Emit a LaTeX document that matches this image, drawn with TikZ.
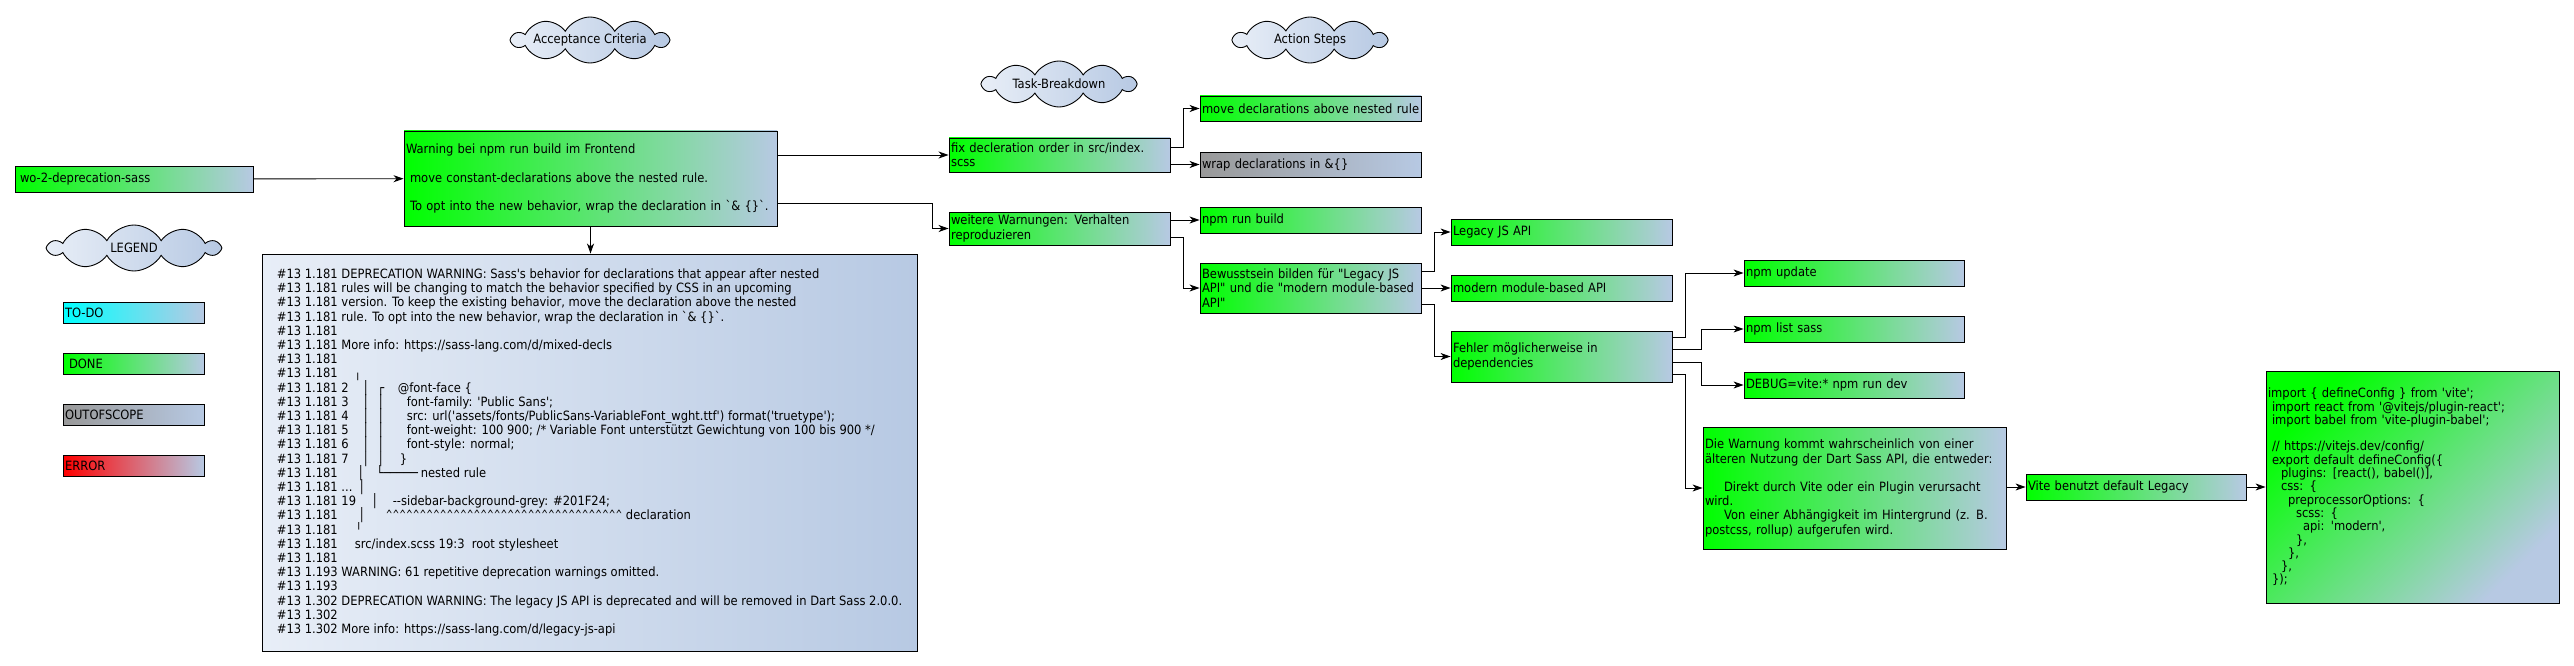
\documentclass[tikz,border=0pt]{standalone}
\usepackage{fontspec}
\usepackage{graphicx}
\usetikzlibrary{shapes.symbols, arrows.meta}
\newfontfamily\lblfont{DejaVu Sans}[FakeStretch=0.9]
\definecolor{doneL}{HTML}{00FF00}
\definecolor{todoL}{HTML}{00FFFF}
\definecolor{oosL}{HTML}{999999}
\definecolor{errL}{HTML}{FF0000}
\definecolor{fadeR}{HTML}{B7C9E3}
\definecolor{cloudL}{HTML}{E8EEF7}
\newcommand\logtab[2]{\makebox[0pt][l]{\hspace*{#1pt}#2}}
\newcommand\indentby[1]{\hspace*{#1pt}}
\newcommand\fivecarets{\char"5E\char"5E\char"5E\char"5E\char"5E}
\newcommand\logfont{\lblfont\fontsize{12.8}{14.2}\selectfont\lineskiplimit=-100pt\relax}
\begin{document}
\begin{tikzpicture}[x=1pt, y=-1pt, line width=0.9pt,
    >={Stealth[length=10pt, width=7pt, inset=3pt]},
    every node/.style={font=\lblfont\fontsize{12.8}{14.2}\selectfont},
    taskbox/.style={draw, inner xsep=2pt, inner ysep=1pt, align=left, right color=fadeR},
    donebox/.style={taskbox, left color=doneL},
    todobox/.style={taskbox, left color=todoL},
    oosbox/.style={taskbox, left color=oosL},
    errbox/.style={taskbox, left color=errL},
    tagcloud/.style={draw, cloud, cloud puffs=10, cloud puff arc=120, aspect=3.3,
        cloud ignores aspect, minimum width=152, minimum height=46, inner sep=0pt,
        left color=cloudL, right color=fadeR},
    logbox/.style={draw, align=left, left color=cloudL, right color=fadeR, font=\logfont}]
    \path[use as bounding box, fill=white] (0,0) rectangle (2574,666);

    \node[tagcloud] (accept) at (590, 40) {Acceptance Criteria};
    \node[tagcloud] (breakdown) at (1059, 84) {Task-Breakdown};
    \node[tagcloud] (actions) at (1310, 40) {Action Steps};
    \node[tagcloud, minimum width=170] (legend) at (134, 248) {LEGEND};

    \node[todobox, text width=137, minimum height=21] (todo) at (133.5, 312.5) {TO-DO};
    \node[donebox, text width=137, minimum height=21] (done) at (133.5, 363.5) {\indentby{4}DONE};
    \node[oosbox, text width=137, minimum height=21] (oos) at (133.5, 414.5) {OUTOFSCOPE};
    \node[errbox, text width=137, minimum height=21] (err) at (133.5, 465.5) {ERROR};

    \node[donebox, text width=234, minimum height=26] (ticket) at (134, 179) {\indentby{3}wo-2-deprecation-sass};
    \node[donebox, text width=369, minimum height=95] (warning) at (590.5, 178.5) {Warning bei npm run build im Frontend\\[14.2pt]
        \indentby{4}move constant-declarations above the nested rule.\\[14.2pt]
        \indentby{4}To opt into the new behavior, wrap the declaration in `\& \{\}`.};
    \node[logbox, minimum width=655, minimum height=397] (log) at (589.5, 452.5) {%
        \#13 1.181 DEPRECATION WARNING: Sass's behavior for declarations that appear after nested\\
        \#13 1.181 rules will be changing to match the behavior specified by CSS in an upcoming\\
        \#13 1.181 version. To keep the existing behavior, move the declaration above the nested\\
        \#13 1.181 rule. To opt into the new behavior, wrap the declaration in `\& \{\}`.\\
        \#13 1.181\\
        \#13 1.181 More info: https://sass-lang.com/d/mixed-decls\\
        \#13 1.181\\
        \logtab{0}{\#13 1.181}\logtab{77.5}{╷}\\
        \logtab{0}{\#13 1.181 2}\logtab{85.5}{│}\logtab{100.5}{┌}\logtab{121}{@font-face \{}\\
        \logtab{0}{\#13 1.181 3}\logtab{85.5}{│}\logtab{100.5}{│}\logtab{130}{font-family: 'Public Sans';}\\
        \logtab{0}{\#13 1.181 4}\logtab{85.5}{│}\logtab{100.5}{│}\logtab{130}{src: url('assets/fonts/PublicSans-VariableFont\_wght.ttf') format('truetype');}\\
        \logtab{0}{\#13 1.181 5}\logtab{85.5}{│}\logtab{100.5}{│}\logtab{130}{font-weight: 100 900; /* Variable Font unterstützt Gewichtung von 100 bis 900 */}\\
        \logtab{0}{\#13 1.181 6}\logtab{85.5}{│}\logtab{100.5}{│}\logtab{130}{font-style: normal;}\\
        \logtab{0}{\#13 1.181 7}\logtab{85.5}{│}\logtab{100.5}{│}\logtab{123}{\}}\\
        \logtab{0}{\#13 1.181}\logtab{80.5}{│}\logtab{99.5}{└─────}\logtab{144}{nested rule}\\
        \logtab{0}{\#13 1.181 ...}\logtab{81.5}{│}\\
        \logtab{0}{\#13 1.181 19}\logtab{94.5}{│}\logtab{116}{-{}-sidebar-background-grey: \#201F24;}\\
        \logtab{0}{\#13 1.181}\logtab{81.5}{│}\logtab{109}{\scalebox{0.7}[1]{\fivecarets\fivecarets\fivecarets\fivecarets\fivecarets\fivecarets\fivecarets} declaration}\\
        \logtab{0}{\#13 1.181}\logtab{78.5}{╵}\\
        \logtab{0}{\#13 1.181}\logtab{78}{src/index.scss 19:3\ \ root stylesheet}\\
        \#13 1.181\\
        \#13 1.193 WARNING: 61 repetitive deprecation warnings omitted.\\
        \#13 1.193\\
        \#13 1.302 DEPRECATION WARNING: The legacy JS API is deprecated and will be removed in Dart Sass 2.0.0.\\
        \#13 1.302\\
        \#13 1.302 More info: https://sass-lang.com/d/legacy-js-api};

    \node[donebox, text width=217, minimum height=34] (fix) at (1059.5, 155) {\mbox{fix decleration order in src/index.}\\scss};
    \node[donebox, text width=217, minimum height=25] (move) at (1310.5, 108.5) {\mbox{move declarations above nested rule}};
    \node[oosbox, text width=217, minimum height=25] (wrap) at (1310.5, 164.5) {wrap declarations in \&\{\}};
    \node[donebox, text width=217, minimum height=33] (repro) at (1059.5, 228.5) {weitere Warnungen: Verhalten\\reproduzieren};
    \node[donebox, text width=217, minimum height=26] (build) at (1310.5, 220) {npm run build};
    \node[donebox, text width=217, minimum height=50] (aware) at (1310.5, 288) {\mbox{Bewusstsein bilden für "Legacy JS}\\\mbox{API" und die "modern module-based}\\API"};
    \node[donebox, text width=217, minimum height=26] (legacy) at (1561.5, 232) {Legacy JS API};
    \node[donebox, text width=217, minimum height=26] (modern) at (1561.5, 288) {modern module-based API};
    \node[donebox, text width=217, minimum height=51] (deps) at (1561.5, 356.5) {Fehler möglicherweise in\\dependencies};
    \node[donebox, text width=216, minimum height=26] (update) at (1854, 273) {npm update};
    \node[donebox, text width=216, minimum height=26] (list) at (1854, 329) {npm list sass};
    \node[donebox, text width=216, minimum height=26] (debug) at (1854, 385) {DEBUG=vite:* npm run dev};
    \node[donebox, text width=299, minimum height=122] (cause) at (1854.5, 488) {\mbox{Die Warnung kommt wahrscheinlich von einer}\\
        \mbox{älteren Nutzung der Dart Sass API, die entweder:}\\[14.2pt]
        \indentby{19}\mbox{Direkt durch Vite oder ein Plugin verursacht}\\
        wird.\\
        \indentby{19}\mbox{Von einer Abhängigkeit im Hintergrund (z. B.}\\
        \mbox{postcss, rollup) aufgerufen wird.}};
    \node[donebox, text width=216, minimum height=26] (vite) at (2136, 487) {Vite benutzt default Legacy};
    \node[donebox, shading angle=45, text width=289, minimum height=232,
        font=\lblfont\fontsize{12.8}{13.3}\selectfont] (config) at (2412.5, 487) {import \{ defineConfig \} from 'vite';\\
        \indentby{4}import react from '@vitejs/plugin-react';\\
        \indentby{4}import babel from 'vite-plugin-babel';\\[13.3pt]
        \indentby{4}// https://vitejs.dev/config/\\
        \indentby{4}export default defineConfig(\{\\
        \indentby{13}plugins: [react(), babel()],\\
        \indentby{13}css: \{\\
        \indentby{20}preprocessorOptions: \{\\
        \indentby{28}scss: \{\\
        \indentby{35}api: 'modern',\\
        \indentby{28}\},\\
        \indentby{20}\},\\
        \indentby{13}\},\\
        \indentby{4}\});};

    \draw[->] (ticket) -- (warning);
    \draw[->] (warning.east |- fix.west) -- (fix.west);
    \draw[->] ([yshift=-24.5]warning.east) -| ([xshift=-16]repro.west) -- (repro.west);
    \draw[->] (warning.south) -- (warning.south |- log.north);
    \draw[->] ([yshift=8]fix.east) -| ([xshift=-16]move.west) -- (move.west);
    \draw[->] (fix.east |- wrap.west) -- (wrap.west);
    \draw[->] (repro.east |- build.west) -- (build.west);
    \draw[->] ([yshift=-8.5]repro.east) -| ([xshift=-16]aware.west) -- (aware.west);
    \draw[->] ([yshift=17]aware.east) -| ([xshift=-16]legacy.west) -- (legacy.west);
    \draw[->] (aware.east) -- (modern.west);
    \draw[->] ([yshift=-16]aware.east) -| ([xshift=-16]deps.west) -- (deps.west);
    \draw[->] ([yshift=19.5]deps.east) -| ([xshift=-58]update.west) -- (update.west);
    \draw[->] ([yshift=7.5]deps.east) -| ([xshift=-42]list.west) -- (list.west);
    \draw[->] ([yshift=-5.5]deps.east) -| ([xshift=-42]debug.west) -- (debug.west);
    \draw[->] ([yshift=-17.5]deps.east) -| ([xshift=-17]cause.west) -- (cause.west);
    \draw[->] (cause.east |- vite.west) -- (vite.west);
    \draw[->] (vite) -- (config);
\end{tikzpicture}
\end{document}
